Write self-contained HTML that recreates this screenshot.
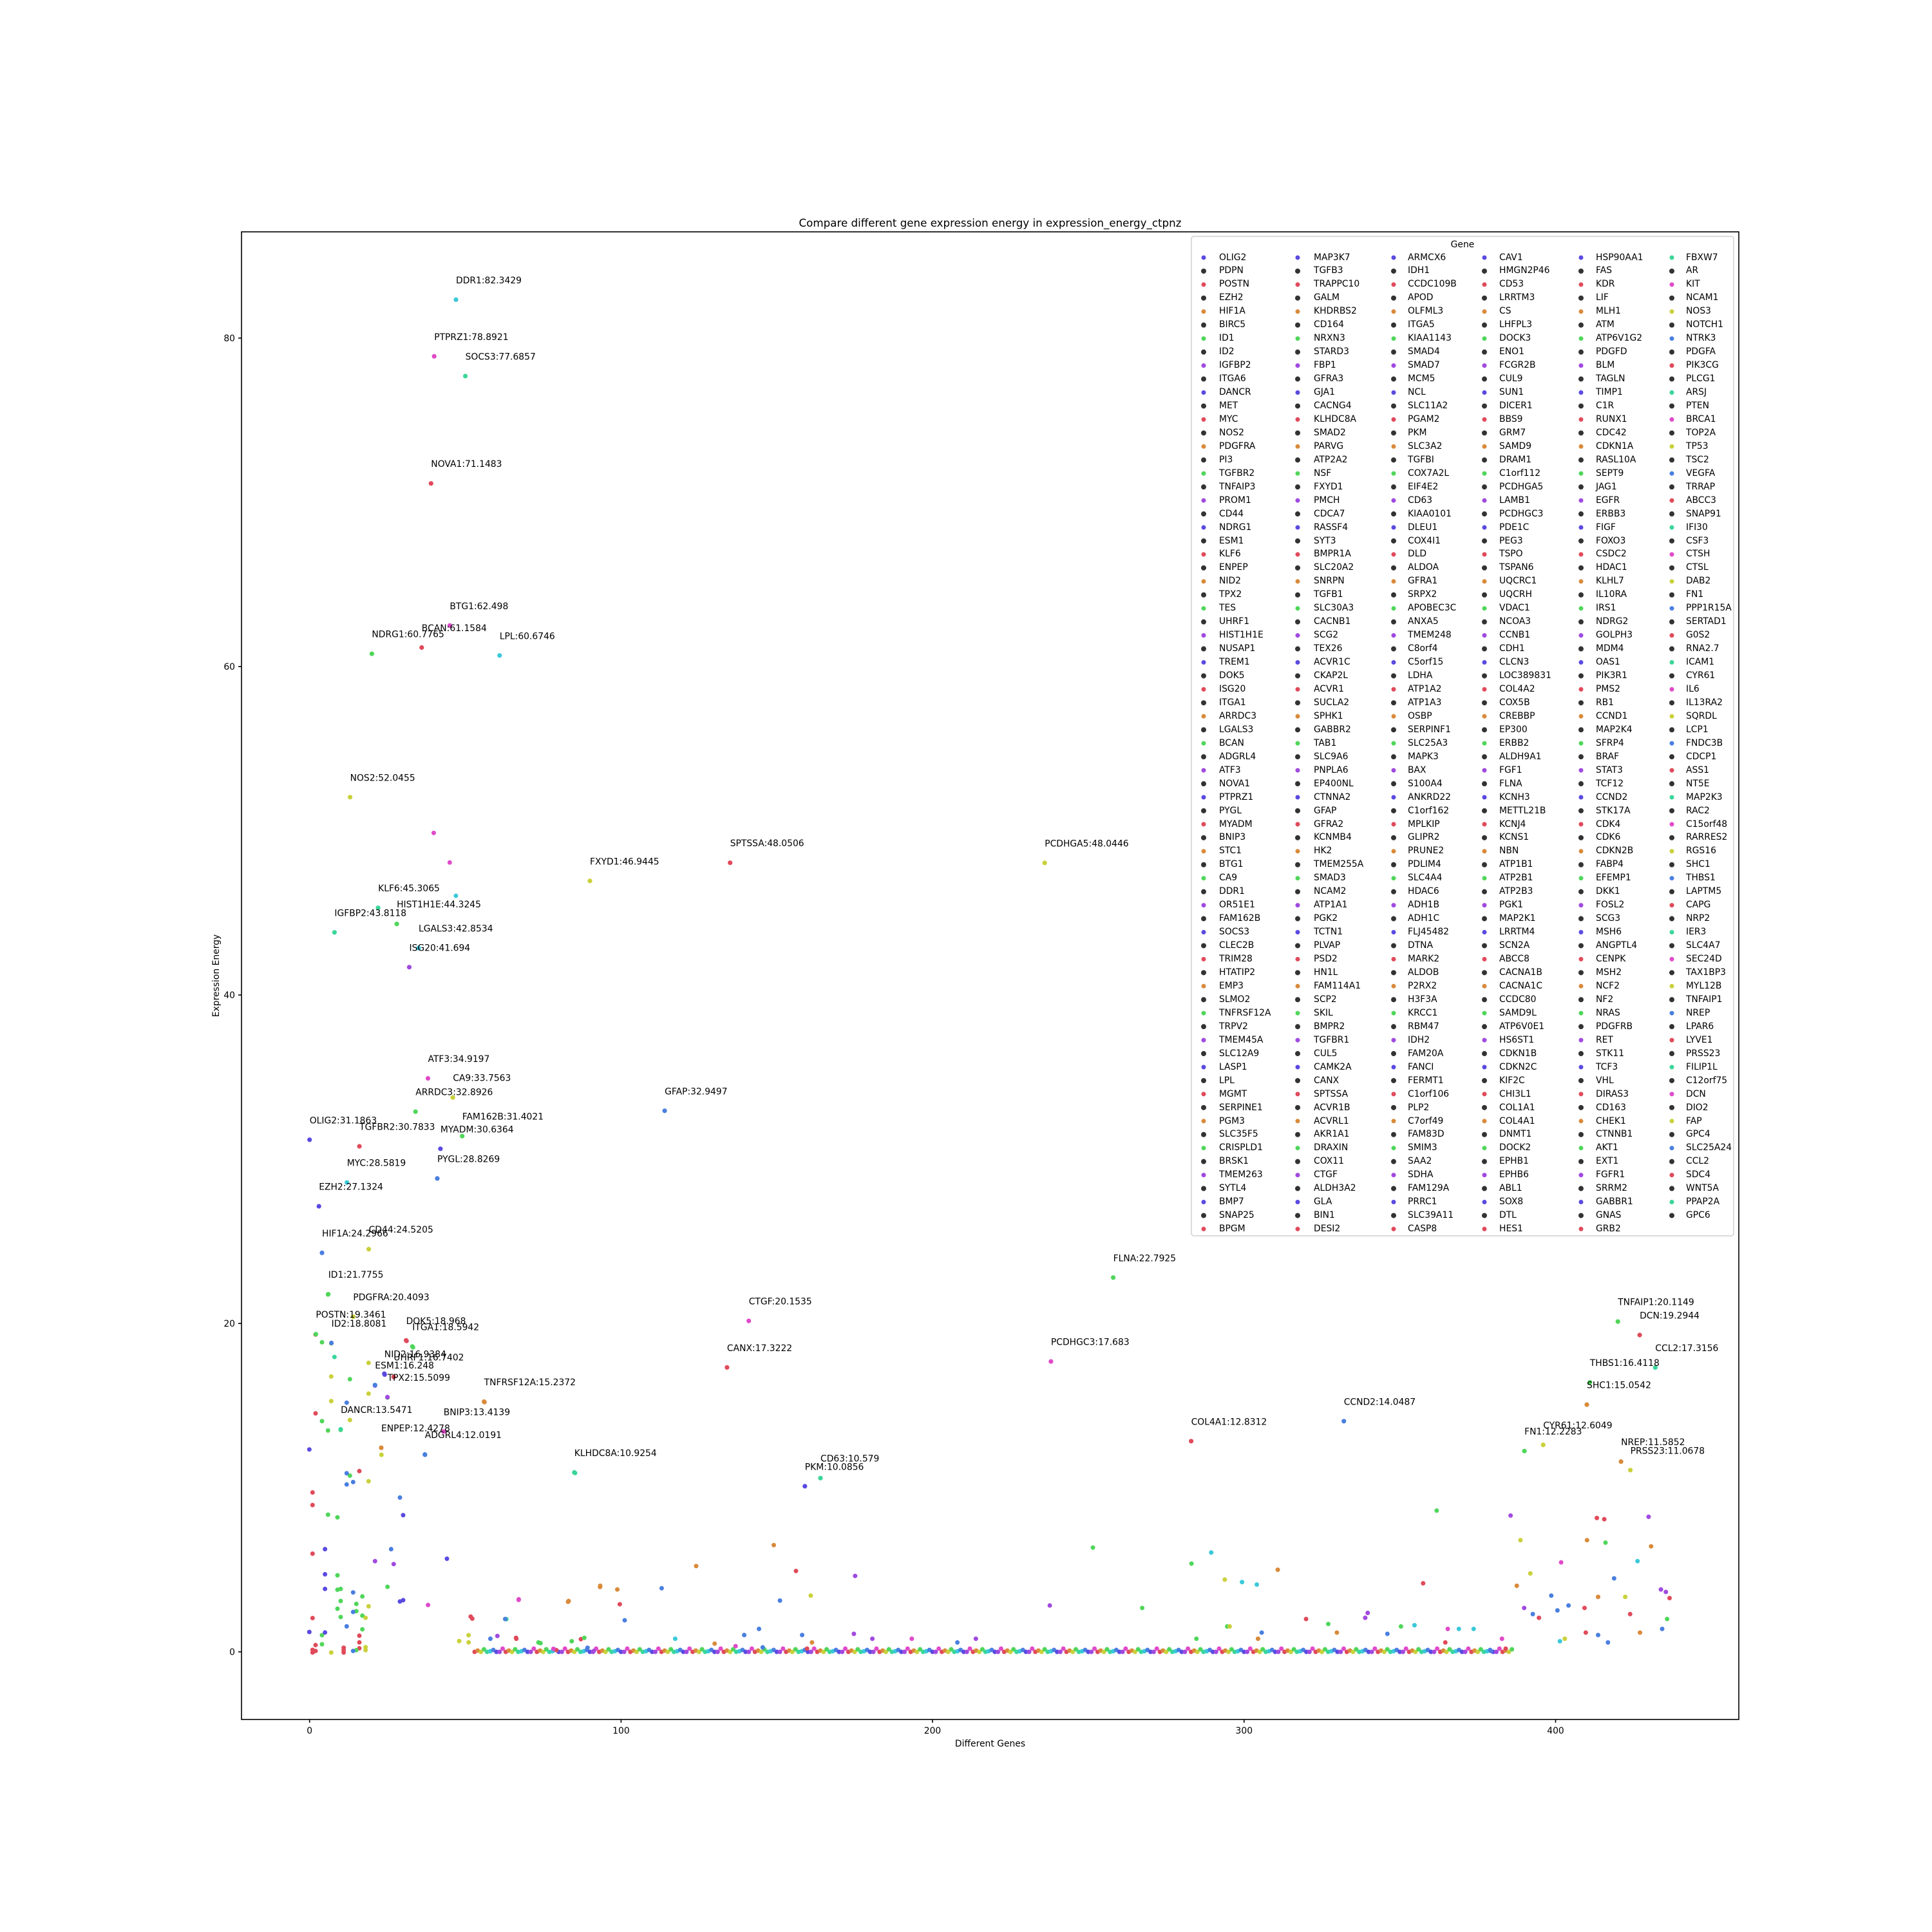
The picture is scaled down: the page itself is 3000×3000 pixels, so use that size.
<!DOCTYPE html>
<html><head><meta charset="utf-8"><style>
html,body{margin:0;padding:0;background:#fff;}
#wrap{position:relative;width:3000px;height:3000px;overflow:hidden;font-family:"DejaVu Sans","Liberation Sans",sans-serif;}
svg{position:absolute;left:0;top:0;}
svg text{font-family:"DejaVu Sans","Liberation Sans",sans-serif;font-size:13.9px;fill:#000;}
.col{position:absolute;top:389.5px;font-size:13.9px;line-height:20.95px;white-space:pre-line;color:#000;}
</style></head><body><div id="wrap">
<svg width="3000" height="3000" viewBox="0 0 3000 3000" xmlns="http://www.w3.org/2000/svg">
<text x="1537.5" y="352" text-anchor="middle" style="font-size:16.7px">Compare different gene expression energy in expression_energy_ctpnz</text>
<rect x="375" y="360" width="2325" height="2310" fill="none" stroke="#000" stroke-width="1.6"/>
<g stroke="#000" stroke-width="1.6">
<line x1="480.7" y1="2670" x2="480.7" y2="2675"/><line x1="964.4" y1="2670" x2="964.4" y2="2675"/><line x1="1448" y1="2670" x2="1448" y2="2675"/><line x1="1931.8" y1="2670" x2="1931.8" y2="2675"/><line x1="2415.5" y1="2670" x2="2415.5" y2="2675"/>
<line x1="370" y1="2565" x2="375" y2="2565"/><line x1="370" y1="2055" x2="375" y2="2055"/><line x1="370" y1="1545" x2="375" y2="1545"/><line x1="370" y1="1035" x2="375" y2="1035"/><line x1="370" y1="525" x2="375" y2="525"/>
</g>
<g text-anchor="middle"><text x="480.7" y="2692">0</text><text x="964.4" y="2692">100</text><text x="1448" y="2692">200</text><text x="1931.8" y="2692">300</text><text x="2415.5" y="2692">400</text></g>
<g text-anchor="end"><text x="365" y="2570">0</text><text x="365" y="2060">20</text><text x="365" y="1550">40</text><text x="365" y="1040">60</text><text x="365" y="530">80</text></g>
<text x="1537.5" y="2712" text-anchor="middle">Different Genes</text>
<text transform="translate(340 1515) rotate(-90)" text-anchor="middle">Expression Energy</text>

<g stroke-width="7" stroke-linecap="round" fill="none">
<line x1="737" y1="2565" x2="2350" y2="2565" stroke="#e04a5a" stroke-dasharray="0 48.37"/>
<line x1="741.8" y1="2563" x2="2350" y2="2563" stroke="#d98a3a" stroke-dasharray="0 48.37"/>
<line x1="746.7" y1="2565" x2="2350" y2="2565" stroke="#c9d13a" stroke-dasharray="0 48.37"/>
<line x1="751.5" y1="2561" x2="2350" y2="2561" stroke="#4fd65a" stroke-dasharray="0 48.37"/>
<line x1="756.3" y1="2565" x2="2350" y2="2565" stroke="#3ad69a" stroke-dasharray="0 48.37"/>
<line x1="761.2" y1="2564" x2="2350" y2="2564" stroke="#3ac9d9" stroke-dasharray="0 48.37"/>
<line x1="766" y1="2562" x2="2350" y2="2562" stroke="#4a7fe0" stroke-dasharray="0 48.37"/>
<line x1="770.9" y1="2565" x2="2350" y2="2565" stroke="#5a4ae0" stroke-dasharray="0 48.37"/>
<line x1="775.7" y1="2565" x2="2350" y2="2565" stroke="#a04ae0" stroke-dasharray="0 48.37"/>
<line x1="780.5" y1="2560" x2="2350" y2="2560" stroke="#e04ac9" stroke-dasharray="0 48.37"/>
</g>

<g transform="translate(440 1950.7) scale(0.33333 0.41494)" fill="none" stroke-linecap="round">
<path vector-effect="non-scaling-stroke" stroke-width="7" stroke="#e04a5a" d="M150 293h0M150 588h0M354 804h0M136 884h0M136 931h0M136 1113h0M880 1356h0M1084 1428h0M1386 1433h0M136 1354h0M354 1420h0M354 1445h0M150 1455h0M136 1473h0M150 1477h0M136 1483h0M281 1465h0M281 1474h0M281 1483h0M354 1467h0M1272 1474h0M574 317h0"/>
<path vector-effect="non-scaling-stroke" stroke-width="7" stroke="#4fd65a" d="M208 143h0M180 322h0M310 460h0M485 529h0M180 617h0M208 652h0M267 650h0M310 821h0M208 967h0M252 977h0M252 1194h0M252 1248h0M267 1245h0M485 1237h0M368 1273h0M267 1290h0M340 1301h0M252 1319h0M340 1328h0M368 1345h0M267 1350h0M368 1396h0M180 1418h0M180 1452h0M340 1474h0M1198 1448h0M1402 1428h0M604 341h0"/>
<path vector-effect="non-scaling-stroke" stroke-width="7" stroke="#c9d13a" d="M223 326h0M397 399h0M223 450h0M397 514h0M223 542h0M310 613h0M397 842h0M457 743h0M397 1310h0M383 1353h0M223 1483h0M383 1463h0M383 1474h0M819 1440h0M863 1418h0M863 1445h0"/>
<path vector-effect="non-scaling-stroke" stroke-width="7" stroke="#3ad69a" d="M238 377h0M1359 811h0M1039 1358h0"/>
<path vector-effect="non-scaling-stroke" stroke-width="7" stroke="#4a7fe0" d="M295 548h0M660 743h0M295 812h0M295 854h0M325 845h0M325 1258h0M325 1331h0M295 1385h0M325 1477h0M1417 1465h0M543 903h0M502 1096h0"/>
<path vector-effect="non-scaling-stroke" stroke-width="7" stroke="#5a4ae0" d="M121 723h0M558 969h0M194 1096h0M762 1132h0M194 1190h0M194 1245h0M543 1292h0M558 1287h0M121 1406h0M194 1408h0M472 443h0"/>
<path vector-effect="non-scaling-stroke" stroke-width="7" stroke="#a04ae0" d="M427 484h0M427 1141h0M514 1152h0M997 1421h0M1446 1477h0"/>
<path vector-effect="non-scaling-stroke" stroke-width="7" stroke="#e04ac9" d="M674 1305h0M1096 1286h0M1258 1469h0"/>
<path vector-effect="non-scaling-stroke" stroke-width="7" stroke="#d98a3a" d="M1329 1290h0M1476 1233h0M937 546h0"/>
</g>

<g transform="scale(1.91327)" fill="none" stroke-linecap="round">
<path vector-effect="non-scaling-stroke" stroke-width="7" stroke="#e04ac9" d="M352 676h0M365 700h0M1267 1268h0M1219 1330h0M597 1336h0M740 1330h0M421 1298h0M1175 1322h0"/>
<path vector-effect="non-scaling-stroke" stroke-width="7" stroke="#3ac9d9" d="M370 727h0M983 1260h0M1008 1284h0M1020 1286h0M1329 1267h0M1266 1332h0M548 1330h0M1148 1319h0M1184 1322h0M1196 1322h0"/>
<path vector-effect="non-scaling-stroke" stroke-width="7" stroke="#4fd65a" d="M1166 1226h0M887 1256h0M927 1305h0M971 1330h0M1303 1252h0M967 1269h0M996 1320h0M1078 1318h0M1137 1320h0M1353 1314h0M437 1333h0M464 1332h0"/>
<path vector-effect="non-scaling-stroke" stroke-width="7" stroke="#a04ae0" d="M1226 1230h0M1338 1231h0M1348 1290h0M1352 1292h0M852 1303h0M1108 1313h0M1110 1309h0M694 1279h0M693 1326h0M708 1330h0M792 1330h0M1237 1305h0"/>
<path vector-effect="non-scaling-stroke" stroke-width="7" stroke="#c9d13a" d="M1234 1250h0M1242 1277h0M1319 1296h0M994 1282h0M998 1320h0M1270 1330h0M658 1295h0"/>
<path vector-effect="non-scaling-stroke" stroke-width="7" stroke="#d98a3a" d="M1288 1250h0M1340 1255h0M1297 1296h0M1231 1287h0M1037 1274h0M1021 1330h0M1085 1325h0M1331 1325h0M628 1254h0M565 1271h0M487 1288h0M501 1290h0M461 1300h0M580 1334h0M659 1333h0"/>
<path vector-effect="non-scaling-stroke" stroke-width="7" stroke="#e04a5a" d="M1296 1232h0M1302 1233h0M1286 1305h0M1355 1297h0M1323 1310h0M1249 1313h0M1287 1325h0M1222 1338h0M1060 1314h0M1155 1285h0M1173 1333h0M646 1275h0M503 1302h0M382 1312h0M419 1330h0M655 1338h0"/>
<path vector-effect="non-scaling-stroke" stroke-width="7" stroke="#4a7fe0" d="M1310 1281h0M1259 1295h0M1273 1303h0M1264 1307h0M1349 1322h0M1305 1333h0M1244 1310h0M1297 1327h0M1210 1340h0M1024 1325h0M1126 1326h0M537 1289h0M633 1299h0M616 1322h0M507 1315h0M410 1314h0M398 1330h0M604 1327h0M651 1327h0M619 1337h0M777 1333h0"/>
</g>

<g>
<circle cx="480.7" cy="1769.8" r="3.6" fill="#5a4ae0"/><circle cx="490.4" cy="2071.7" r="3.6" fill="#4fd65a"/><circle cx="495.2" cy="1873.1" r="3.6" fill="#5a4ae0"/><circle cx="500" cy="1945.4" r="3.6" fill="#4a7fe0"/><circle cx="509.7" cy="2009.7" r="3.6" fill="#4fd65a"/><circle cx="514.6" cy="2085.4" r="3.6" fill="#4a7fe0"/><circle cx="519.4" cy="1447.8" r="3.6" fill="#3ad69a"/><circle cx="529.1" cy="2219.5" r="3.6" fill="#3ad69a"/><circle cx="538.7" cy="1836.2" r="3.6" fill="#3ac9d9"/><circle cx="543.6" cy="1237.8" r="3.6" fill="#c9d13a"/><circle cx="548.4" cy="2044.6" r="3.6" fill="#c9d13a"/><circle cx="558.1" cy="1780" r="3.6" fill="#e04a5a"/><circle cx="572.6" cy="1939.7" r="3.6" fill="#c9d13a"/><circle cx="577.4" cy="1015.2" r="3.6" fill="#4fd65a"/><circle cx="582.3" cy="2150.7" r="3.6" fill="#4a7fe0"/><circle cx="587.1" cy="1409.7" r="3.6" fill="#3ad69a"/><circle cx="592" cy="2248.1" r="3.6" fill="#d98a3a"/><circle cx="596.8" cy="2133.1" r="3.6" fill="#5a4ae0"/><circle cx="601.6" cy="2169.5" r="3.6" fill="#a04ae0"/><circle cx="611.3" cy="2138.1" r="3.6" fill="#e04a5a"/><circle cx="616.1" cy="1434.7" r="3.6" fill="#4fd65a"/><circle cx="630.6" cy="2081.3" r="3.6" fill="#e04a5a"/><circle cx="635.5" cy="1501.8" r="3.6" fill="#a04ae0"/><circle cx="640.3" cy="2090.8" r="3.6" fill="#4fd65a"/><circle cx="645.2" cy="1726.2" r="3.6" fill="#4fd65a"/><circle cx="650" cy="1472.2" r="3.6" fill="#3ac9d9"/><circle cx="654.8" cy="1005.5" r="3.6" fill="#e04a5a"/><circle cx="659.7" cy="2258.5" r="3.6" fill="#4a7fe0"/><circle cx="664.5" cy="1674.5" r="3.6" fill="#e04ac9"/><circle cx="669.3" cy="750.7" r="3.6" fill="#e04a5a"/><circle cx="674.2" cy="553.3" r="3.6" fill="#e04ac9"/><circle cx="679" cy="1829.9" r="3.6" fill="#4a7fe0"/><circle cx="683.9" cy="1783.8" r="3.6" fill="#5a4ae0"/><circle cx="688.7" cy="2222.9" r="3.6" fill="#e04ac9"/><circle cx="698.4" cy="971.3" r="3.6" fill="#e04ac9"/><circle cx="703.2" cy="1704.2" r="3.6" fill="#c9d13a"/><circle cx="708" cy="465.3" r="3.6" fill="#3ac9d9"/><circle cx="717.7" cy="1764.2" r="3.6" fill="#4fd65a"/><circle cx="722.6" cy="584" r="3.6" fill="#3ad69a"/><circle cx="751.6" cy="2176.5" r="3.6" fill="#d98a3a"/><circle cx="775.8" cy="1017.8" r="3.6" fill="#3ac9d9"/><circle cx="891.8" cy="2286.4" r="3.6" fill="#3ad69a"/><circle cx="916" cy="1367.9" r="3.6" fill="#c9d13a"/><circle cx="1032.1" cy="1724.8" r="3.6" fill="#4a7fe0"/><circle cx="1128.9" cy="2123.3" r="3.6" fill="#e04a5a"/><circle cx="1133.7" cy="1339.7" r="3.6" fill="#e04a5a"/><circle cx="1162.7" cy="2051.1" r="3.6" fill="#e04ac9"/><circle cx="1249.8" cy="2307.8" r="3.6" fill="#5a4ae0"/><circle cx="1274" cy="2295.2" r="3.6" fill="#3ad69a"/><circle cx="1622.2" cy="1339.9" r="3.6" fill="#c9d13a"/><circle cx="1631.9" cy="2114.1" r="3.6" fill="#e04ac9"/><circle cx="1728.6" cy="1983.8" r="3.6" fill="#4fd65a"/><circle cx="1849.6" cy="2237.8" r="3.6" fill="#e04a5a"/><circle cx="2086.7" cy="2206.8" r="3.6" fill="#4a7fe0"/><circle cx="2464" cy="2181.1" r="3.6" fill="#d98a3a"/><circle cx="2468.8" cy="2146.5" r="3.6" fill="#4fd65a"/><circle cx="2367.1" cy="2253.2" r="3.6" fill="#4fd65a"/><circle cx="2396.2" cy="2243.6" r="3.6" fill="#c9d13a"/><circle cx="2512.2" cy="2052.1" r="3.6" fill="#4fd65a"/><circle cx="2517.1" cy="2269.6" r="3.6" fill="#d98a3a"/><circle cx="2531.6" cy="2282.8" r="3.6" fill="#c9d13a"/><circle cx="2546.1" cy="2073" r="3.6" fill="#e04a5a"/><circle cx="2570.3" cy="2123.5" r="3.6" fill="#3ad69a"/>
</g>
<g>
<text x="480.7" y="1744.3">OLIG2:31.1863</text><text x="490.4" y="2046.2">POSTN:19.3461</text><text x="495.2" y="1847.6">EZH2:27.1324</text><text x="500" y="1919.9">HIF1A:24.2966</text><text x="509.7" y="1984.2">ID1:21.7755</text><text x="514.6" y="2059.9">ID2:18.8081</text><text x="519.4" y="1422.3">IGFBP2:43.8118</text><text x="529.1" y="2194">DANCR:13.5471</text><text x="538.7" y="1810.7">MYC:28.5819</text><text x="543.6" y="1212.3">NOS2:52.0455</text><text x="548.4" y="2019.1">PDGFRA:20.4093</text><text x="558.1" y="1754.5">TGFBR2:30.7833</text><text x="572.6" y="1914.2">CD44:24.5205</text><text x="577.4" y="989.7">NDRG1:60.7765</text><text x="582.3" y="2125.2">ESM1:16.248</text><text x="587.1" y="1384.2">KLF6:45.3065</text><text x="592" y="2222.6">ENPEP:12.4278</text><text x="596.8" y="2107.6">NID2:16.9384</text><text x="601.6" y="2144">TPX2:15.5099</text><text x="611.3" y="2112.6">UHRF1:16.7402</text><text x="616.1" y="1409.2">HIST1H1E:44.3245</text><text x="630.6" y="2055.8">DOK5:18.968</text><text x="635.5" y="1476.3">ISG20:41.694</text><text x="640.3" y="2065.3">ITGA1:18.5942</text><text x="645.2" y="1700.7">ARRDC3:32.8926</text><text x="650" y="1446.7">LGALS3:42.8534</text><text x="654.8" y="980">BCAN:61.1584</text><text x="659.7" y="2233">ADGRL4:12.0191</text><text x="664.5" y="1649">ATF3:34.9197</text><text x="669.3" y="725.2">NOVA1:71.1483</text><text x="674.2" y="527.8">PTPRZ1:78.8921</text><text x="679" y="1804.4">PYGL:28.8269</text><text x="683.9" y="1758.3">MYADM:30.6364</text><text x="688.7" y="2197.4">BNIP3:13.4139</text><text x="698.4" y="945.8">BTG1:62.498</text><text x="703.2" y="1678.7">CA9:33.7563</text><text x="708" y="439.8">DDR1:82.3429</text><text x="717.7" y="1738.7">FAM162B:31.4021</text><text x="722.6" y="558.5">SOCS3:77.6857</text><text x="751.6" y="2151">TNFRSF12A:15.2372</text><text x="775.8" y="992.3">LPL:60.6746</text><text x="891.8" y="2260.9">KLHDC8A:10.9254</text><text x="916" y="1342.4">FXYD1:46.9445</text><text x="1032.1" y="1699.3">GFAP:32.9497</text><text x="1128.9" y="2097.8">CANX:17.3222</text><text x="1133.7" y="1314.2">SPTSSA:48.0506</text><text x="1162.7" y="2025.6">CTGF:20.1535</text><text x="1249.8" y="2282.3">PKM:10.0856</text><text x="1274" y="2269.7">CD63:10.579</text><text x="1622.2" y="1314.4">PCDHGA5:48.0446</text><text x="1631.9" y="2088.6">PCDHGC3:17.683</text><text x="1728.6" y="1958.3">FLNA:22.7925</text><text x="1849.6" y="2212.3">COL4A1:12.8312</text><text x="2086.7" y="2181.3">CCND2:14.0487</text><text x="2464" y="2155.6">SHC1:15.0542</text><text x="2468.8" y="2121">THBS1:16.4118</text><text x="2367.1" y="2227.7">FN1:12.2283</text><text x="2396.2" y="2218.1">CYR61:12.6049</text><text x="2512.2" y="2026.6">TNFAIP1:20.1149</text><text x="2517.1" y="2244.1">NREP:11.5852</text><text x="2531.6" y="2257.3">PRSS23:11.0678</text><text x="2546.1" y="2047.5">DCN:19.2944</text><text x="2570.3" y="2098">CCL2:17.3156</text>
</g>

<rect x="1850" y="367" width="842" height="1552" rx="4" fill="#fff" fill-opacity="0.8" stroke="#d0d0d0" stroke-width="1.5"/>
<text x="2271" y="384" text-anchor="middle">Gene</text>
<g fill="none" stroke-linecap="round">
<g id="mk">
<line x1="1869" y1="420.95" x2="1869" y2="1910" stroke="#333" stroke-width="8" stroke-dasharray="0 41.9"/>
<line x1="1869" y1="400" x2="1869" y2="1910" stroke="#5a4ae0" stroke-width="7" stroke-dasharray="0 209.5"/>
<line x1="1869" y1="441.9" x2="1869" y2="1910" stroke="#e04a5a" stroke-width="7" stroke-dasharray="0 209.5"/>
<line x1="1869" y1="483.8" x2="1869" y2="1910" stroke="#d98a3a" stroke-width="7" stroke-dasharray="0 209.5"/>
<line x1="1869" y1="525.7" x2="1869" y2="1910" stroke="#4fd65a" stroke-width="7" stroke-dasharray="0 209.5"/>
<line x1="1869" y1="567.6" x2="1869" y2="1910" stroke="#a04ae0" stroke-width="7" stroke-dasharray="0 209.5"/>
</g>
<use href="#mk" transform="translate(146 0)"/>
<use href="#mk" transform="translate(295 0)"/>
<use href="#mk" transform="translate(436 0)"/>
<use href="#mk" transform="translate(586 0)"/>
<g transform="translate(727 0)">
<line x1="1869" y1="420.95" x2="1869" y2="1890" stroke="#333" stroke-width="8" stroke-dasharray="0 41.9"/>
<line x1="1869" y1="400" x2="1869" y2="1890" stroke="#3ad69a" stroke-width="7" stroke-dasharray="0 209.5"/>
<line x1="1869" y1="441.9" x2="1869" y2="1890" stroke="#e04ac9" stroke-width="7" stroke-dasharray="0 209.5"/>
<line x1="1869" y1="483.8" x2="1869" y2="1890" stroke="#c9d13a" stroke-width="7" stroke-dasharray="0 209.5"/>
<line x1="1869" y1="525.7" x2="1869" y2="1890" stroke="#4a7fe0" stroke-width="7" stroke-dasharray="0 209.5"/>
<line x1="1869" y1="567.6" x2="1869" y2="1890" stroke="#e04a5a" stroke-width="7" stroke-dasharray="0 209.5"/>
</g>
</g>
</svg>
<div class="col" style="left:1893px">OLIG2
PDPN
POSTN
EZH2
HIF1A
BIRC5
ID1
ID2
IGFBP2
ITGA6
DANCR
MET
MYC
NOS2
PDGFRA
PI3
TGFBR2
TNFAIP3
PROM1
CD44
NDRG1
ESM1
KLF6
ENPEP
NID2
TPX2
TES
UHRF1
HIST1H1E
NUSAP1
TREM1
DOK5
ISG20
ITGA1
ARRDC3
LGALS3
BCAN
ADGRL4
ATF3
NOVA1
PTPRZ1
PYGL
MYADM
BNIP3
STC1
BTG1
CA9
DDR1
OR51E1
FAM162B
SOCS3
CLEC2B
TRIM28
HTATIP2
EMP3
SLMO2
TNFRSF12A
TRPV2
TMEM45A
SLC12A9
LASP1
LPL
MGMT
SERPINE1
PGM3
SLC35F5
CRISPLD1
BRSK1
TMEM263
SYTL4
BMP7
SNAP25
BPGM</div>
<div class="col" style="left:2040px">MAP3K7
TGFB3
TRAPPC10
GALM
KHDRBS2
CD164
NRXN3
STARD3
FBP1
GFRA3
GJA1
CACNG4
KLHDC8A
SMAD2
PARVG
ATP2A2
NSF
FXYD1
PMCH
CDCA7
RASSF4
SYT3
BMPR1A
SLC20A2
SNRPN
TGFB1
SLC30A3
CACNB1
SCG2
TEX26
ACVR1C
CKAP2L
ACVR1
SUCLA2
SPHK1
GABBR2
TAB1
SLC9A6
PNPLA6
EP400NL
CTNNA2
GFAP
GFRA2
KCNMB4
HK2
TMEM255A
SMAD3
NCAM2
ATP1A1
PGK2
TCTN1
PLVAP
PSD2
HN1L
FAM114A1
SCP2
SKIL
BMPR2
TGFBR1
CUL5
CAMK2A
CANX
SPTSSA
ACVR1B
ACVRL1
AKR1A1
DRAXIN
COX11
CTGF
ALDH3A2
GLA
BIN1
DESI2</div>
<div class="col" style="left:2186px">ARMCX6
IDH1
CCDC109B
APOD
OLFML3
ITGA5
KIAA1143
SMAD4
SMAD7
MCM5
NCL
SLC11A2
PGAM2
PKM
SLC3A2
TGFBI
COX7A2L
EIF4E2
CD63
KIAA0101
DLEU1
COX4I1
DLD
ALDOA
GFRA1
SRPX2
APOBEC3C
ANXA5
TMEM248
C8orf4
C5orf15
LDHA
ATP1A2
ATP1A3
OSBP
SERPINF1
SLC25A3
MAPK3
BAX
S100A4
ANKRD22
C1orf162
MPLKIP
GLIPR2
PRUNE2
PDLIM4
SLC4A4
HDAC6
ADH1B
ADH1C
FLJ45482
DTNA
MARK2
ALDOB
P2RX2
H3F3A
KRCC1
RBM47
IDH2
FAM20A
FANCI
FERMT1
C1orf106
PLP2
C7orf49
FAM83D
SMIM3
SAA2
SDHA
FAM129A
PRRC1
SLC39A11
CASP8</div>
<div class="col" style="left:2328px">CAV1
HMGN2P46
CD53
LRRTM3
CS
LHFPL3
DOCK3
ENO1
FCGR2B
CUL9
SUN1
DICER1
BBS9
GRM7
SAMD9
DRAM1
C1orf112
PCDHGA5
LAMB1
PCDHGC3
PDE1C
PEG3
TSPO
TSPAN6
UQCRC1
UQCRH
VDAC1
NCOA3
CCNB1
CDH1
CLCN3
LOC389831
COL4A2
COX5B
CREBBP
EP300
ERBB2
ALDH9A1
FGF1
FLNA
KCNH3
METTL21B
KCNJ4
KCNS1
NBN
ATP1B1
ATP2B1
ATP2B3
PGK1
MAP2K1
LRRTM4
SCN2A
ABCC8
CACNA1B
CACNA1C
CCDC80
SAMD9L
ATP6V0E1
HS6ST1
CDKN1B
CDKN2C
KIF2C
CHI3L1
COL1A1
COL4A1
DNMT1
DOCK2
EPHB1
EPHB6
ABL1
SOX8
DTL
HES1</div>
<div class="col" style="left:2478px">HSP90AA1
FAS
KDR
LIF
MLH1
ATM
ATP6V1G2
PDGFD
BLM
TAGLN
TIMP1
C1R
RUNX1
CDC42
CDKN1A
RASL10A
SEPT9
JAG1
EGFR
ERBB3
FIGF
FOXO3
CSDC2
HDAC1
KLHL7
IL10RA
IRS1
NDRG2
GOLPH3
MDM4
OAS1
PIK3R1
PMS2
RB1
CCND1
MAP2K4
SFRP4
BRAF
STAT3
TCF12
CCND2
STK17A
CDK4
CDK6
CDKN2B
FABP4
EFEMP1
DKK1
FOSL2
SCG3
MSH6
ANGPTL4
CENPK
MSH2
NCF2
NF2
NRAS
PDGFRB
RET
STK11
TCF3
VHL
DIRAS3
CD163
CHEK1
CTNNB1
AKT1
EXT1
FGFR1
SRRM2
GABBR1
GNAS
GRB2</div>
<div class="col" style="left:2618px">FBXW7
AR
KIT
NCAM1
NOS3
NOTCH1
NTRK3
PDGFA
PIK3CG
PLCG1
ARSJ
PTEN
BRCA1
TOP2A
TP53
TSC2
VEGFA
TRRAP
ABCC3
SNAP91
IFI30
CSF3
CTSH
CTSL
DAB2
FN1
PPP1R15A
SERTAD1
G0S2
RNA2.7
ICAM1
CYR61
IL6
IL13RA2
SQRDL
LCP1
FNDC3B
CDCP1
ASS1
NT5E
MAP2K3
RAC2
C15orf48
RARRES2
RGS16
SHC1
THBS1
LAPTM5
CAPG
NRP2
IER3
SLC4A7
SEC24D
TAX1BP3
MYL12B
TNFAIP1
NREP
LPAR6
LYVE1
PRSS23
FILIP1L
C12orf75
DCN
DIO2
FAP
GPC4
SLC25A24
CCL2
SDC4
WNT5A
PPAP2A
GPC6</div>
</div></body></html>
